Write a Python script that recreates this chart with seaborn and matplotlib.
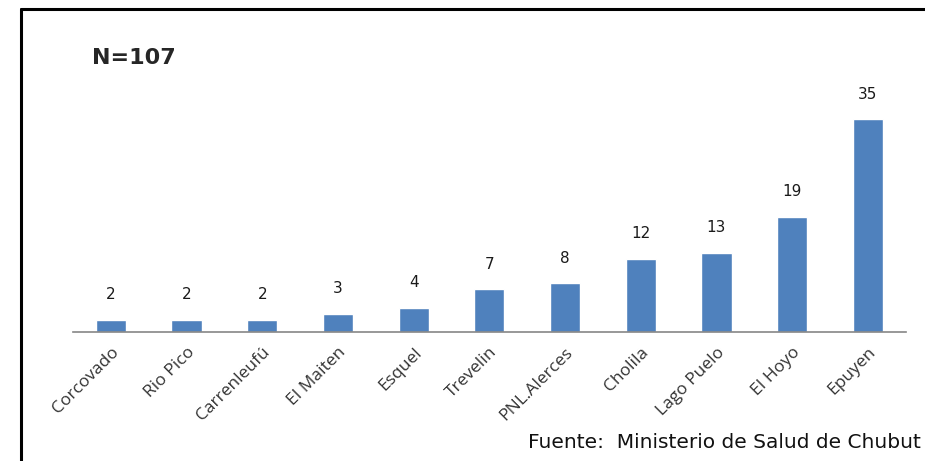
import matplotlib
matplotlib.use("Agg")
import matplotlib.pyplot as plt
import pandas as pd
import seaborn as sns

localidades = ['Corcovado', 'Rio Pico', 'Carrenleufú', 'El Maiten', 'Esquel', 'Trevelin',
               'PNL.Alerces', 'Cholila', 'Lago Puelo', 'El Hoyo', 'Epuyen']
casos = [2, 2, 2, 3, 4, 7, 8, 12, 13, 19, 35]


def barras():
    sns.set_style('white')
    plt.rcParams['font.family'] = ['DejaVu Sans']
    df = pd.DataFrame({'localidad': localidades, 'casos': casos})

    fig = plt.figure(figsize=(9.25, 4.61), dpi=100)
    ax = fig.add_axes([0.079, 0.28, 0.90, 0.527])
    sns.barplot(x='localidad', y='casos', data=df, color='#4F81BD', saturation=1,
                width=0.4, ax=ax)

    for i, v in enumerate(casos):
        ax.text(i, v + 2.9, str(v), ha='center', va='bottom', fontsize=11, color='#1a1a1a')

    ax.set_xlim(-0.5, 10.5)
    ax.set_ylim(0, 40)
    ax.set_xlabel('')
    ax.set_ylabel('')
    ax.set_yticks([])
    for s in ['top', 'right', 'left']:
        ax.spines[s].set_visible(False)
    ax.spines['bottom'].set_color('#868686')
    ax.spines['bottom'].set_linewidth(1.2)
    ax.tick_params(axis='x', length=0, pad=9)
    plt.setp(ax.get_xticklabels(), rotation=45, ha='right', rotation_mode='anchor',
             fontsize=12.5, color='#333333', family='Open Sans')

    fig.text(0.099, 0.874, 'N=107', fontsize=16, fontweight='bold', ha='left', va='center')
    fig.text(0.995, 0.028, 'Fuente:  Ministerio de Salud de Chubut', fontsize=14.5,
             ha='right', va='baseline', color='#111111')

    # marco
    fig.add_artist(plt.Line2D([0.0227, 0.0227], [0.0, 0.980], color='black', lw=2.2,
                              transform=fig.transFigure))
    fig.add_artist(plt.Line2D([0.0227, 1.0], [0.980, 0.980], color='black', lw=2.2,
                              transform=fig.transFigure))

    plt.savefig('out.png', dpi=100)
    plt.clf()


def main():
    barras()


if __name__ == "__main__":
    main()
